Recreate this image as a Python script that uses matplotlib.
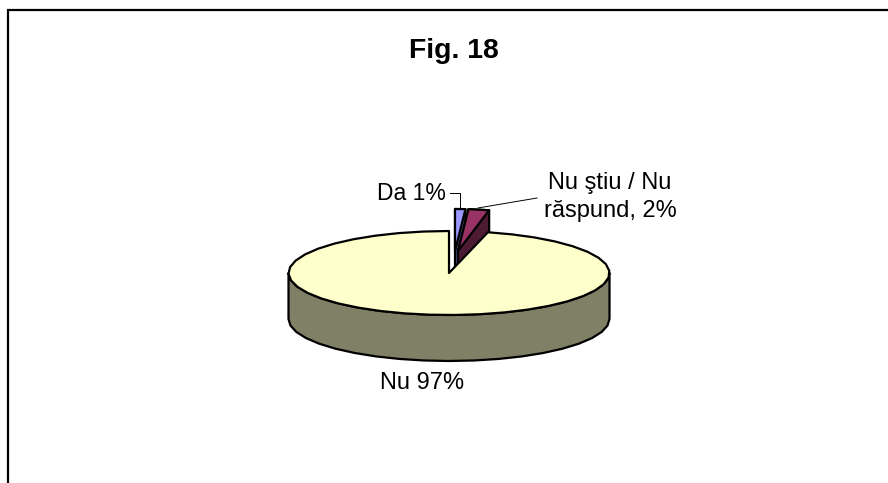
import numpy as np
import matplotlib
matplotlib.use("Agg")
import matplotlib.pyplot as plt
from matplotlib.patches import Polygon

# estimated shares
categories = ["Da", "Nu stiu / Nu raspund", "Nu"]
values = [1.3, 2.6, 96.1]
top_colors = ["#9999FF", "#993366", "#FFFFCC"]
side_colors = ["#4D4D80", "#4D1A33", "#808066"]

W, H = 888, 483
cx, cy = 449, 273
a, b = 160.5, 42
depth = 46
shift_x = [6, 9]
shift_y = -22
back_scale = 0.8  # perspective, exploded slices look narrower

plt.rcParams["font.family"] = ["Liberation Sans", "DejaVu Sans"]

fig = plt.figure(figsize=(W / 100, H / 100), dpi=100)
ax = fig.add_axes([0, 0, 1, 1])
ax.set_xlim(0, W)
ax.set_ylim(H, 0)
ax.axis("off")


def rim(start, end, step=9.0):
    n = max(int(round((end - start) / step)), 1)
    t = np.radians(np.linspace(start, end, n + 1))
    return np.sin(t), -np.cos(t)


def poly(pts, color, z):
    ax.add_patch(Polygon(pts, closed=True, facecolor=color, edgecolor="black",
                         linewidth=1.6, joinstyle="round", zorder=z))


# angles clockwise from 12 o'clock
edges = np.concatenate([[0], np.cumsum(values)]) * 3.6

# the two small exploded slices sit behind the big one
for i in range(2):
    sx, sy = rim(edges[i], edges[i + 1])
    x = cx + shift_x[i] + a * back_scale * sx
    y = cy + shift_y + b * sy
    ox, oy = cx + shift_x[i], cy + shift_y
    side = [(ox, oy), (x[0], y[0]), (x[-1], y[-1]), (x[-1], y[-1] + depth), (ox, oy + depth)]
    poly(side, side_colors[i], 2 + i)
    poly([(ox, oy)] + list(zip(x, y)), top_colors[i], 2 + i)

# big slice, wall first and then the top
sx, sy = rim(90, 270)
x = cx + a * sx
y = cy + b * sy
wall = list(zip(x, y)) + list(zip(x[::-1], y[::-1] + depth))
poly(wall, side_colors[2], 5)
sx, sy = rim(edges[2], edges[3])
top = [(cx, cy)] + list(zip(cx + a * sx, cy + b * sy))
poly(top, top_colors[2], 6)

# frame, only left and top are inside the image
ax.plot([8, 8, 888], [483, 10, 10], color="black", lw=1.6, zorder=1, solid_joinstyle="miter")

# leader lines
ax.plot([450, 460, 460], [193, 193, 208], color="black", lw=0.7, zorder=7)
ax.plot([478, 537], [208, 198], color="black", lw=0.7, zorder=7)

ax.text(454, 51, "Fig. 18", ha="center", va="center", fontsize=20.4, fontweight="bold")
ax.text(411.5, 193, "Da 1%", ha="center", va="center", fontsize=16.5)
ax.text(610, 197, "Nu ştiu / Nu\nrăspund, 2%", ha="center", va="center", fontsize=17, linespacing=1.36)
ax.text(422, 383, "Nu 97%", ha="center", va="center", fontsize=17)

fig.savefig("out.png", dpi=100)
